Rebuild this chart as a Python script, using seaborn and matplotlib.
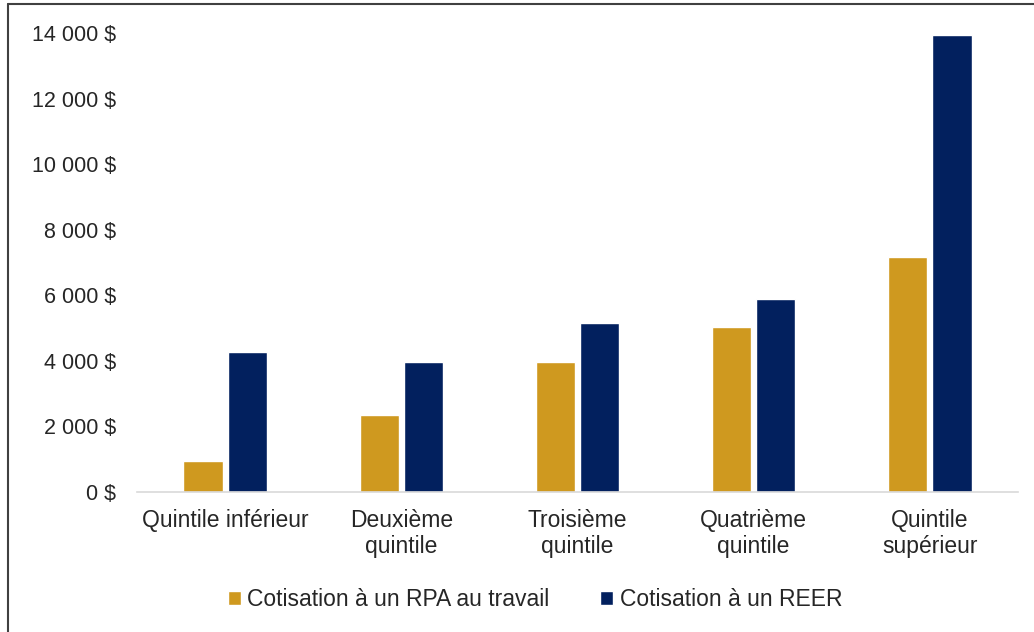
import matplotlib
matplotlib.use("Agg")
import matplotlib.pyplot as plt
import pandas as pd
import seaborn as sns
from matplotlib.lines import Line2D
from matplotlib.ticker import FuncFormatter

# Data
quintiles = [
    "Quintile inférieur",
    "Deuxième\nquintile",
    "Troisième\nquintile",
    "Quatrième\nquintile",
    "Quintile\nsupérieur",
]
series_names = ["Cotisation à un RPA au travail", "Cotisation à un REER"]
rpa_values = [955, 2350, 3975, 5045, 7160]
reer_values = [4270, 3975, 5165, 5880, 13950]
y_ticks = [0, 2000, 4000, 6000, 8000, 10000, 12000, 14000]
colors = ["#CF991F", "#02205E"]

df = pd.DataFrame({
    "quintile": quintiles * 2,
    "serie": [series_names[0]] * 5 + [series_names[1]] * 5,
    "montant": rpa_values + reer_values,
})

sns.set_style("white")
plt.rcParams["font.family"] = ["Liberation Sans", "DejaVu Sans"]

fig = plt.figure(figsize=(10.34, 6.32), dpi=100)
ax = fig.add_axes([0.1325, 0.2215, 0.852, 0.7263])

sns.barplot(
    data=df, x="quintile", y="montant", hue="serie",
    palette=colors, saturation=1, width=0.5, gap=0.11, ax=ax,
    order=quintiles, hue_order=series_names, legend=True,
)

ax.set_ylim(0, 14000)
ax.set_xlim(-0.5, 4.5)
ax.set_yticks(y_ticks)
ax.yaxis.set_major_formatter(
    FuncFormatter(lambda v, _: f"{int(v):,} $".replace(",", " "))
)
ax.set_xlabel("")
ax.set_ylabel("")
ax.tick_params(axis="y", length=0, pad=15, labelsize=15.5, colors="#262626")
ax.tick_params(axis="x", length=0, pad=12, labelsize=16.5, colors="#262626")
for lbl in ax.get_xticklabels():
    lbl.set_linespacing(1.2)

for side in ["left", "right", "top"]:
    ax.spines[side].set_visible(False)
ax.spines["bottom"].set_color("#D9D9D9")
ax.spines["bottom"].set_linewidth(1.2)

handles, labels = ax.get_legend_handles_labels()
ax.get_legend().remove()
fig.legend(
    handles, labels, loc="center", bbox_to_anchor=(535 / 1034, 1 - 600 / 632),
    ncol=2, frameon=False, fontsize=16.5, handlelength=0.55, handleheight=0.55,
    handletextpad=0.3, columnspacing=2.2, labelcolor="#262626",
)

# Outer frame (left and top edges visible in the reference)
fig.add_artist(Line2D([8 / 1034, 8 / 1034], [0, 1 - 4 / 632],
                      transform=fig.transFigure, color="#404040", lw=1.5))
fig.add_artist(Line2D([8 / 1034, 1], [1 - 4 / 632, 1 - 4 / 632],
                      transform=fig.transFigure, color="#404040", lw=1.5))

fig.savefig("out.png", dpi=100)
